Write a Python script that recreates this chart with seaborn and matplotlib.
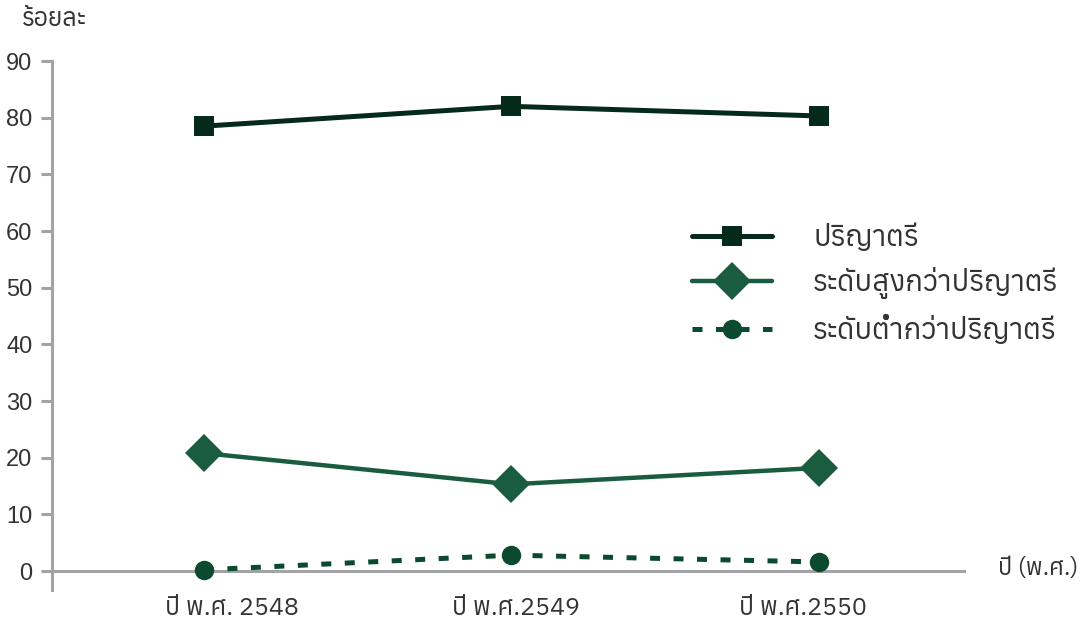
import pandas as pd
import matplotlib
matplotlib.use("Agg")
import matplotlib.pyplot as plt
import matplotlib.transforms as mtransforms
import seaborn as sns

sns.set_theme(style="white")
plt.rcParams['font.family'] = ['Liberation Sans', 'Anuphan', 'DejaVu Sans']
thai = ['Anuphan', 'Liberation Sans', 'DejaVu Sans']

years = ["ปี พ.ศ. 2548", "ปี พ.ศ.2549", "ปี พ.ศ.2550"]
bachelor = [78.5, 82.0, 80.3]
above_bachelor = [20.8, 15.3, 18.2]
below_bachelor = [0.2, 2.8, 1.6]

labels = ["ปริญาตรี", "ระดับสูงกว่าปริญาตรี", "ระดับต่ำกว่าปริญาตรี"]

df = pd.DataFrame({"year": years, labels[0]: bachelor,
                   labels[1]: above_bachelor, labels[2]: below_bachelor})

grey = "#a3a3a6"
txt = "#333333"
fig = plt.figure(figsize=(10.81, 6.3), dpi=100)
ax = fig.add_axes([52 / 1081, 40 / 630, 914 / 1081, 529 / 630])

# x-axis line at zero
ax.axhline(0, color=grey, lw=2.2, zorder=1)

sns.lineplot(data=df, x="year", y=labels[0], ax=ax, sort=False,
             color="#05291a", lw=3.6, marker="s", markersize=14.5,
             markeredgewidth=0, label=labels[0], zorder=3)
sns.lineplot(data=df, x="year", y=labels[1], ax=ax, sort=False,
             color="#1a5c40", lw=3.2, marker="D", markersize=19,
             markeredgewidth=0, label=labels[1], zorder=3)
sns.lineplot(data=df, x="year", y=labels[2], ax=ax, sort=False,
             color="#0c4a2f", lw=3.6, marker="o", markersize=14,
             markeredgewidth=0, label=labels[2], zorder=3)
ax.lines[-1].set_dashes([2.0, 2.7])

ax.set_xlim(-0.494, 2.478)
ax.set_ylim(-3.35, 90)
ax.set_yticks(range(0, 91, 10))
ax.set_xlabel("")
ax.set_ylabel("")

for s in ["top", "right", "bottom"]:
    ax.spines[s].set_visible(False)
ax.spines["left"].set_color(grey)
ax.spines["left"].set_linewidth(2.2)
ax.tick_params(axis="y", length=8, width=2.2, color=grey, left=True,
               labelsize=17, labelcolor=txt, pad=6)
ax.tick_params(axis="x", length=0, labelsize=18, labelcolor=txt, pad=5)
# the year labels sit a little off the points in the original
shifts = [28, 4, -16]
for lbl, dx in zip(ax.get_xticklabels(), shifts):
    lbl.set_fontfamily(thai)
    lbl.set_transform(lbl.get_transform() +
                      mtransforms.ScaledTranslation(dx / 100, 0, fig.dpi_scale_trans))

leg = ax.legend(loc="upper left", bbox_to_anchor=(666 / 1081, 1 - 197 / 630),
                bbox_transform=fig.transFigure, frameon=False,
                prop={"family": thai, "size": 21},
                handlelength=2.75, handletextpad=1.4, labelspacing=0.54,
                numpoints=1, labelcolor=txt)

fig.text(22 / 1081, 1 - 20 / 630, "ร้อยละ", fontsize=18, color=txt,
         va="center", ha="left", family=thai)
fig.text(998 / 1081, 1 - 569 / 630, "ปี (พ.ศ.)", fontsize=17, color=txt,
         va="center", ha="left", family=thai)

fig.savefig("out.png", dpi=100)
